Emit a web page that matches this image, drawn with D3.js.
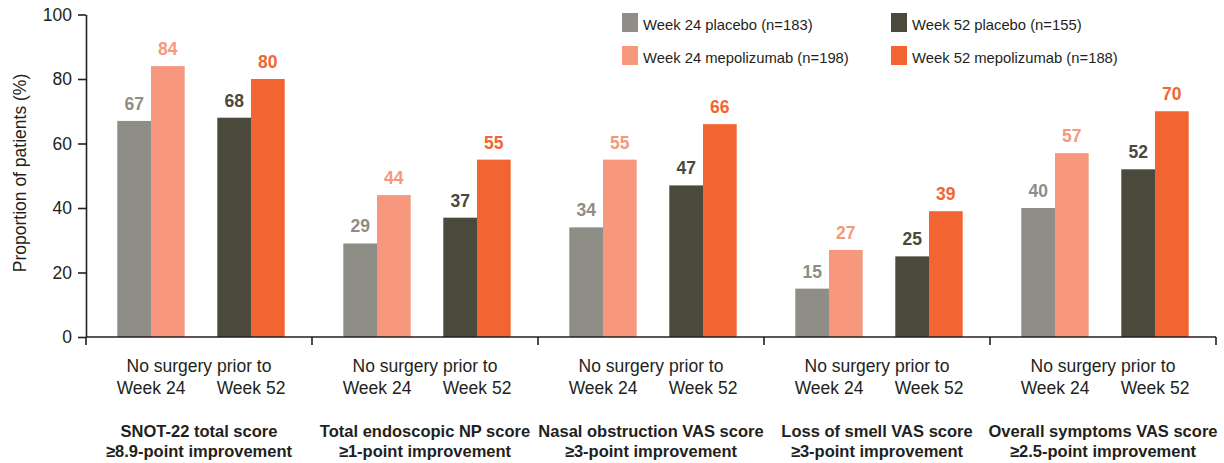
<!DOCTYPE html>
<html>
<head>
<meta charset="utf-8">
<script src="https://cdn.jsdelivr.net/npm/d3@7"></script>
<style>
  body { margin: 0; background: #fff; }
  svg { display: block; font-family: "Liberation Sans", Arial, sans-serif; }
</style>
</head>
<body>
<svg id="chart"></svg>
<script>
// Chart data
const categories = [
  ["SNOT-22 total score", "≥8.9-point improvement"],
  ["Total endoscopic NP score", "≥1-point improvement"],
  ["Nasal obstruction VAS score", "≥3-point improvement"],
  ["Loss of smell VAS score", "≥3-point improvement"],
  ["Overall symptoms VAS score", "≥2.5-point improvement"]
];
const timepoints = ["Week 24", "Week 52"];
const arms = ["placebo", "mepolizumab"];
const week24Placebo = [67, 29, 34, 15, 40];
const week24Mepo = [84, 44, 55, 27, 57];
const week52Placebo = [68, 37, 47, 25, 52];
const week52Mepo = [80, 55, 66, 39, 70];
const yTicks = [0, 20, 40, 60, 80, 100];
const legendLabels = [
  "Week 24 placebo (n=183)",
  "Week 24 mepolizumab (n=198)",
  "Week 52 placebo (n=155)",
  "Week 52 mepolizumab (n=188)"
];

const width = 1224;
const height = 463;
const colors = {
  "Week 24 placebo": "#8e8d86",
  "Week 24 mepolizumab": "#f6977e",
  "Week 52 placebo": "#4b483c",
  "Week 52 mepolizumab": "#f26532"
};
const textColor = "#231f20";

// Flatten series into one row per bar
const values = {
  "Week 24": { placebo: week24Placebo, mepolizumab: week24Mepo },
  "Week 52": { placebo: week52Placebo, mepolizumab: week52Mepo }
};
const bars = [];
categories.forEach((c, i) => {
  timepoints.forEach((t) => {
    arms.forEach((a) => {
      bars.push({ cat: i, time: t, arm: a, value: values[t][a][i] });
    });
  });
});

const svg = d3.select("#chart").attr("width", width).attr("height", height);

const margin = { left: 86, right: 8 };
const y = d3.scaleLinear().domain([0, 100]).range([337, 14.5]);

const xGroup = d3
  .scaleBand()
  .domain(d3.range(categories.length))
  .range([margin.left, width - margin.right]);

const xTime = d3
  .scaleBand()
  .domain(timepoints)
  .range([4, xGroup.bandwidth()])
  .paddingInner(0.326)
  .paddingOuter(0.273);

const xArm = d3.scaleBand().domain(arms).range([0, xTime.bandwidth()]);

// Bars
const g = svg.append("g");
g.selectAll("rect.bar")
  .data(bars)
  .enter()
  .append("rect")
  .attr("class", "bar")
  .attr("x", (d) => xGroup(d.cat) + xTime(d.time) + xArm(d.arm))
  .attr("width", xArm.bandwidth())
  .attr("y", (d) => y(d.value))
  .attr("height", (d) => y(0) - y(d.value))
  .attr("fill", (d) => colors[d.time + " " + d.arm]);

// Value labels above bars
g.selectAll("text.val")
  .data(bars)
  .enter()
  .append("text")
  .attr("class", "val")
  .attr("x", (d) => xGroup(d.cat) + xTime(d.time) + xArm(d.arm) + xArm.bandwidth() / 2)
  .attr("y", (d) => y(d.value) - 11)
  .attr("text-anchor", "middle")
  .style("font-size", "17.5px")
  .style("font-weight", "bold")
  .attr("fill", (d) => colors[d.time + " " + d.arm])
  .text((d) => d.value);

// Y axis
const yAxis = svg
  .append("g")
  .attr("transform", `translate(${margin.left},0)`)
  .call(d3.axisLeft(y).tickValues(yTicks).tickSize(8).tickSizeOuter(0).tickPadding(6));
yAxis.attr("font-family", null).attr("font-size", null);
yAxis.select(".domain").attr("stroke", textColor).attr("stroke-width", 1.6);
yAxis.selectAll(".tick line").attr("stroke", textColor).attr("stroke-width", 1.6);
yAxis.selectAll(".tick text")
  .style("font-size", "17.5px")
  .attr("fill", textColor);

svg.append("text")
  .attr("transform", `translate(25.5,173) rotate(-90)`)
  .attr("text-anchor", "middle")
  .style("font-size", "17.5px")
  .attr("fill", textColor)
  .text("Proportion of patients (%)");

// X axis line with group separators
const xAxis = svg.append("g");
xAxis.append("line")
  .attr("x1", margin.left)
  .attr("x2", width - margin.right)
  .attr("y1", y(0))
  .attr("y2", y(0))
  .attr("stroke", textColor)
  .attr("stroke-width", 1.6);
const bounds = xGroup.domain().map((i) => xGroup(i)).concat([width - margin.right]);
xAxis.selectAll("line.sep")
  .data(bounds)
  .enter()
  .append("line")
  .attr("class", "sep")
  .attr("x1", (d) => d)
  .attr("x2", (d) => d)
  .attr("y1", y(0))
  .attr("y2", y(0) + 8)
  .attr("stroke", textColor)
  .attr("stroke-width", 1.6);

// Category labels
const cat = svg
  .selectAll("g.cat")
  .data(categories)
  .enter()
  .append("g")
  .attr("class", "cat")
  .attr("transform", (d, i) => `translate(${xGroup(i)},0)`);

cat.append("text")
  .attr("x", xGroup.bandwidth() / 2)
  .attr("y", 372)
  .attr("text-anchor", "middle")
  .style("font-size", "17.5px")
  .attr("fill", textColor)
  .text("No surgery prior to");

timepoints.forEach((t) => {
  cat.append("text")
    .attr("x", xTime(t) + xTime.bandwidth() / 2)
    .attr("y", 394)
    .attr("text-anchor", "middle")
    .style("font-size", "17.5px")
    .attr("fill", textColor)
    .text(t);
});

[437, 457].forEach((yy, k) => {
  cat.append("text")
    .attr("x", xGroup.bandwidth() / 2)
    .attr("y", yy)
    .attr("text-anchor", "middle")
    .style("font-size", "16.5px")
    .style("font-weight", "bold")
    .attr("fill", textColor)
    .text((d) => d[k]);
});

// Legend
const legendPos = [
  { x: 622, y: 13 },
  { x: 622, y: 46 },
  { x: 891, y: 13 },
  { x: 891, y: 46 }
];
const legendKeys = ["Week 24 placebo", "Week 24 mepolizumab", "Week 52 placebo", "Week 52 mepolizumab"];
const legend = svg
  .selectAll("g.legend")
  .data(legendKeys)
  .enter()
  .append("g")
  .attr("class", "legend")
  .attr("transform", (d, i) => `translate(${legendPos[i].x},${legendPos[i].y})`);
legend.append("rect")
  .attr("width", 16)
  .attr("height", 19)
  .attr("fill", (d) => colors[d]);
legend.append("text")
  .attr("x", 21)
  .attr("y", 17)
  .style("font-size", "14.8px")
  .attr("fill", textColor)
  .text((d, i) => legendLabels[i]);
</script>
</body>
</html>
